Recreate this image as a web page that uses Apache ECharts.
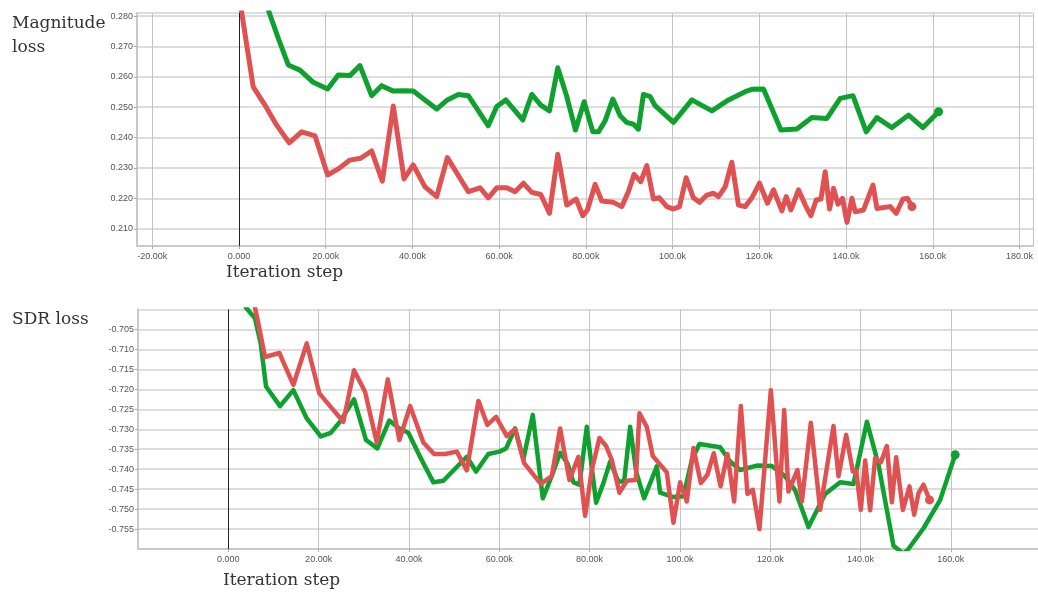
<!DOCTYPE html>
<html>
<head>
<meta charset="utf-8">
<script src="https://cdn.jsdelivr.net/npm/echarts@6/dist/echarts.min.js"></script>
<style>
html,body{margin:0;padding:0;background:#fff;}
#chart{width:1038px;height:597px;}
</style>
</head>
<body>
<div id="chart"></div>
<script>
// ---- Data ----
const magRedSteps = [600,3300,6000,8700,11600,14460,17530,20460,22900,25600,28070,30600,33070,35600,38070,40200,42900,45600,48060,52900,55600,57500,59450,61750,63670,65600,67530,69600,71600,73520,75600,77750,79300,80350,82130,83670,86350,88270,89800,91120,92670,94050,95580,96960,98670,100200,101580,103120,104800,106200,107900,109430,110580,112120,113660,115190,116730,118280,120040,121880,123270,125200,126200,127280,129040,130580,131890,133110,134200,135190,136190,137110,138120,139180,140200,141350,142110,144030,146200,147120,150190,151570,153120,154180,155190];
const magRedVals = [0.2815,0.2567,0.2507,0.2441,0.2383,0.2419,0.2406,0.2277,0.2297,0.2326,0.2332,0.2356,0.2257,0.2504,0.2264,0.2310,0.2238,0.2206,0.2334,0.2222,0.2235,0.2202,0.2235,0.2235,0.2222,0.2250,0.2220,0.2213,0.2151,0.2345,0.2178,0.2198,0.2143,0.2162,0.2246,0.2191,0.2187,0.2173,0.2222,0.2279,0.2255,0.2308,0.2198,0.2202,0.2173,0.2165,0.2173,0.2268,0.2202,0.2187,0.2211,0.2217,0.2206,0.2238,0.2319,0.2178,0.2173,0.2202,0.2250,0.2184,0.2228,0.2159,0.2206,0.2162,0.2228,0.2178,0.2143,0.2195,0.2198,0.2288,0.2165,0.2233,0.2181,0.2200,0.2121,0.2200,0.2156,0.2162,0.2244,0.2167,0.2173,0.2151,0.2198,0.2200,0.2173];

const magGreenSteps = [6900,9070,11380,14070,17150,20460,22900,25600,27910,30600,32900,35600,37900,40200,42900,45600,48060,50600,52900,57500,59450,61530,65450,67530,69600,71600,73520,75600,77600,79600,81600,82900,84440,86210,87900,89440,90970,92120,93270,94820,95970,100200,104440,109050,112890,116730,118280,120960,124970,128660,132120,135580,138650,141580,144650,147120,150580,154400,157730,161330];
const magGreenVals = [0.2815,0.2727,0.2639,0.2622,0.2582,0.2560,0.2606,0.2604,0.2637,0.2538,0.2571,0.2553,0.2554,0.2553,0.2524,0.2494,0.2524,0.2542,0.2538,0.2439,0.2502,0.2524,0.2458,0.2542,0.2507,0.2488,0.2630,0.2535,0.2425,0.2518,0.2419,0.2419,0.2455,0.2527,0.2472,0.2450,0.2444,0.2428,0.2542,0.2535,0.2505,0.2450,0.2524,0.2488,0.2524,0.2551,0.2559,0.2560,0.2425,0.2428,0.2466,0.2463,0.2529,0.2538,0.2419,0.2466,0.2433,0.2474,0.2433,0.2485];

const sdrRedSteps = [5900,6650,8130,11300,14400,17370,20160,22530,25470,27840,30280,32870,35310,37880,40250,43190,45560,48000,50590,52810,55380,57370,59300,61670,63500,65500,69200,71630,73470,75530,77530,79010,80490,82180,83660,84920,86610,88240,90240,91040,92670,94000,97100,98570,100050,101530,103000,104640,106100,107500,109000,110530,112010,113500,114960,116150,117620,120140,122050,123090,124040,126040,127010,129000,131060,134010,135120,136820,138300,139030,140070,141030,142130,143240,144500,145830,146940,147890,149380,150840,151880,152840,153950,155280];
const sdrRedVals = [-0.6995,-0.7035,-0.7119,-0.7109,-0.7189,-0.7085,-0.7210,-0.7242,-0.7281,-0.7152,-0.7206,-0.7333,-0.7175,-0.7327,-0.7242,-0.7333,-0.7362,-0.7362,-0.7356,-0.7403,-0.7229,-0.7289,-0.7269,-0.7317,-0.7300,-0.7385,-0.7437,-0.7417,-0.7298,-0.7427,-0.7369,-0.7517,-0.7402,-0.7322,-0.7342,-0.7377,-0.7459,-0.7429,-0.7427,-0.7260,-0.7294,-0.7367,-0.7408,-0.7534,-0.7433,-0.7481,-0.7347,-0.7435,-0.7414,-0.7360,-0.7443,-0.7362,-0.7481,-0.7242,-0.7462,-0.7452,-0.7550,-0.7202,-0.7481,-0.7252,-0.7456,-0.7402,-0.7481,-0.7284,-0.7502,-0.7292,-0.7418,-0.7314,-0.7406,-0.7403,-0.7502,-0.7378,-0.7503,-0.7372,-0.7383,-0.7342,-0.7483,-0.7370,-0.7502,-0.7443,-0.7514,-0.7460,-0.7439,-0.7477];

const sdrGreenSteps = [3900,5900,7170,8350,11450,14400,17370,20470,22680,24740,27840,30500,33000,35660,37880,39870,42460,45410,47620,52810,54860,57590,60030,61510,63500,65340,67420,69640,71630,73470,75090,76420,77750,79380,81450,83060,84550,86390,87650,88980,90310,92080,94890,95620,98570,100790,102640,104320,108910,111130,113340,117040,120360,123310,125520,128470,132170,135490,138440,141410,143980,147300,149500,150600,153950,157640,160960];
const sdrGreenVals = [-0.6995,-0.7022,-0.7085,-0.7193,-0.7242,-0.7202,-0.7273,-0.7318,-0.7309,-0.7281,-0.7225,-0.7327,-0.7348,-0.7278,-0.7298,-0.7309,-0.7369,-0.7433,-0.7429,-0.7369,-0.7406,-0.7362,-0.7356,-0.7348,-0.7298,-0.7375,-0.7264,-0.7473,-0.7417,-0.7359,-0.7385,-0.7433,-0.7439,-0.7294,-0.7484,-0.7435,-0.7381,-0.7431,-0.7431,-0.7294,-0.7406,-0.7473,-0.7393,-0.7459,-0.7470,-0.7468,-0.7377,-0.7337,-0.7345,-0.7381,-0.7402,-0.7391,-0.7392,-0.7418,-0.7453,-0.7545,-0.7462,-0.7433,-0.7437,-0.7281,-0.7389,-0.7592,-0.7612,-0.7600,-0.7548,-0.7477,-0.7364];

const panelTitles = ['Magnitude\nloss', 'SDR loss'];
const xAxisTitle = 'Iteration step';

// ---- Styling ----
const RED = '#e05252';
const GREEN = '#0fa12e';
const LABEL_FONT = 'Liberation Sans';
const TITLE_FONT = 'DejaVu Serif';

function zip(xs, ys) { return xs.map((x, i) => [x, ys[i]]); }
function lastPoint(xs, ys) { return [[xs[xs.length - 1], ys[ys.length - 1]]]; }
function fmtK(v) {
  if (v === 0) return '0.000';
  const k = v / 1000;
  return (Math.abs(k) >= 100 ? k.toFixed(1) : k.toFixed(2)) + 'k';
}

const xAxisBase = {
  type: 'value',
  splitNumber: 10,
  axisLine: { show: true, onZero: false, lineStyle: { color: '#c9c9c9', width: 2 } },
  axisTick: { show: true, length: 3, lineStyle: { color: '#aaa' } },
  axisLabel: { formatter: fmtK, color: '#555', fontSize: 9, fontFamily: LABEL_FONT, margin: 6, showMinLabel: false, showMaxLabel: false },
  splitLine: { show: true, lineStyle: { color: '#c4c4c4', width: 1 } }
};
const yAxisBase = {
  type: 'value',
  axisLine: { show: true, onZero: false, lineStyle: { color: '#c9c9c9', width: 2 } },
  axisTick: { show: true, length: 3, lineStyle: { color: '#aaa' } },
  axisLabel: { formatter: v => v.toFixed(3), color: '#555', fontSize: 9, fontFamily: LABEL_FONT, margin: 4, showMinLabel: false, showMaxLabel: false },
  splitLine: { show: true, lineStyle: { color: '#d2d2d2', width: 1.5 } }
};

function lineSeries(name, data, color, xi, width, extra) {
  return Object.assign({
    name, type: 'line', data, xAxisIndex: xi, yAxisIndex: xi,
    showSymbol: false, symbol: 'none', clip: true,
    lineStyle: { color, width, cap: 'round', join: 'round' },
    itemStyle: { color }, animation: false, silent: true
  }, extra || {});
}
function endDot(data, color, xi) {
  return { type: 'scatter', data, xAxisIndex: xi, yAxisIndex: xi, symbolSize: 9,
    itemStyle: { color, opacity: 1 }, animation: false, silent: true, z: 3 };
}
const zeroLine = {
  silent: true, symbol: ['none', 'none'], animation: false,
  label: { show: false },
  lineStyle: { color: '#222', width: 1, type: 'solid' },
  data: [{ xAxis: 0 }]
};

const option = {
  backgroundColor: '#fff',
  animation: false,
  grid: [
    { left: 137, top: 13, width: 896, height: 233 },
    { left: 138, top: 309.5, width: 900, height: 239.5 }
  ],
  xAxis: [
    Object.assign({}, xAxisBase, { gridIndex: 0, min: -23500, max: 183100 }),
    Object.assign({}, xAxisBase, { gridIndex: 1, min: -20000, max: 179300, interval: 20000 })
  ],
  yAxis: [
    Object.assign({}, yAxisBase, { gridIndex: 0, min: 0.20434, max: 0.281, splitNumber: 8 }),
    Object.assign({}, yAxisBase, { gridIndex: 1, min: -0.760, max: -0.700, interval: 0.005 })
  ],
  graphic: [
    { type: 'text', left: 12, top: 12, style: { text: panelTitles[0], font: '17px "' + TITLE_FONT + '"', fill: '#333', lineHeight: 24 } },
    { type: 'text', left: 226, top: 264, style: { text: xAxisTitle, font: '17px "' + TITLE_FONT + '"', fill: '#333' } },
    { type: 'text', left: 12, top: 311, style: { text: panelTitles[1], font: '17px "' + TITLE_FONT + '"', fill: '#333' } },
    { type: 'text', left: 223, top: 572, style: { text: xAxisTitle, font: '17px "' + TITLE_FONT + '"', fill: '#333' } }
  ],
  series: [
    lineSeries('mag-green', zip(magGreenSteps, magGreenVals), GREEN, 0, 5, { markLine: zeroLine }),
    lineSeries('mag-red', zip(magRedSteps, magRedVals), RED, 0, 5),
    endDot(lastPoint(magGreenSteps, magGreenVals), GREEN, 0),
    endDot(lastPoint(magRedSteps, magRedVals), RED, 0),
    lineSeries('sdr-green', zip(sdrGreenSteps, sdrGreenVals), GREEN, 1, 4.5, { markLine: zeroLine }),
    lineSeries('sdr-red', zip(sdrRedSteps, sdrRedVals), RED, 1, 4.5),
    endDot(lastPoint(sdrGreenSteps, sdrGreenVals), GREEN, 1),
    endDot(lastPoint(sdrRedSteps, sdrRedVals), RED, 1)
  ]
};

const chart = echarts.init(document.getElementById('chart'), null, { renderer: 'canvas' });
chart.setOption(option);
</script>
</body>
</html>
